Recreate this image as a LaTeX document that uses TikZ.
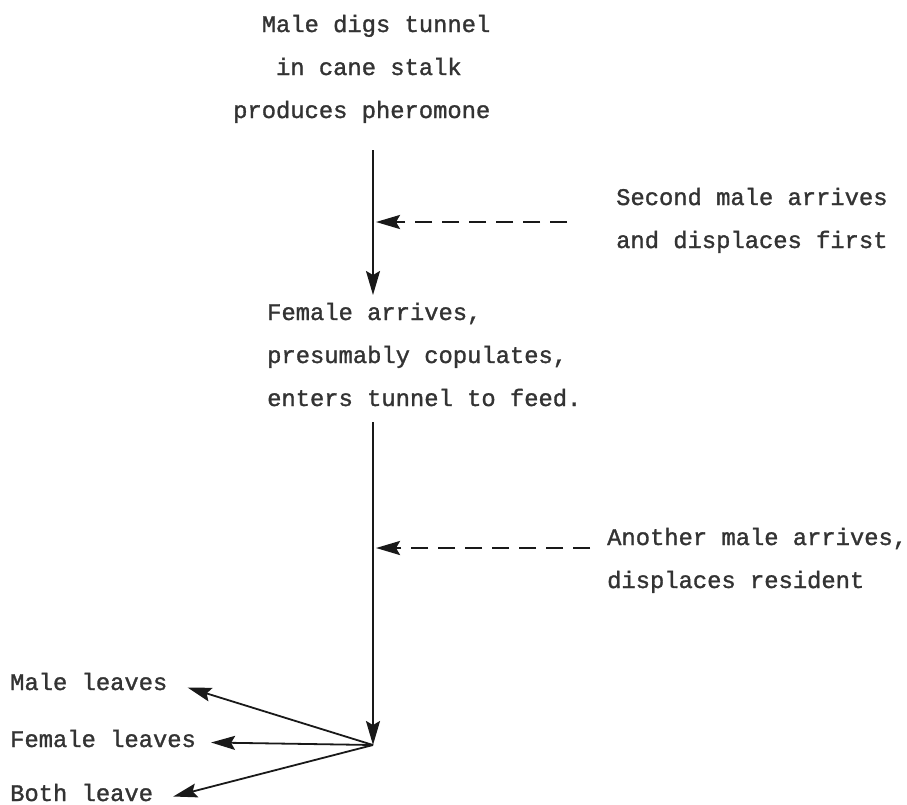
\documentclass[tikz,border=0pt]{standalone}
\usepackage{fontspec}
\setmonofont[FakeBold=1.3]{Liberation Mono}
\usetikzlibrary{arrows.meta}

\begin{document}
\begin{tikzpicture}[x=1pt,y=-1pt,
  txt/.style={font=\ttfamily\fontsize{23.8}{43}\selectfont, text=black!80, inner sep=0pt, align=left, anchor=base west},
  flow/.style={line width=1.8pt, black!90, -{Stealth[length=24pt,width=14pt,inset=4pt]}},
  intrude/.style={flow, line width=2.6pt, dash pattern=on 17pt off 10pt}]

  % page frame
  \useasboundingbox (0,0) rectangle (907,804);

  % --- stages (anchored at the last baseline) ---
  \node[txt] (dig) at (233,118) {\hphantom{xx}Male digs tunnel\\\hphantom{xxx}in cane stalk\\produces pheromone};
  \node[txt] (female) at (267,406) {Female arrives,\\presumably copulates,\\enters tunnel to feed.};

  % --- intruding males ---
  \node[txt] (second) at (616,248) {Second male arrives\\and displaces first};
  \node[txt] (another) at (607,588) {Another male arrives,\\displaces resident};

  % --- outcomes ---
  \node[txt] (mleave) at (10,690) {Male leaves};
  \node[txt] (fleave) at (10,747) {Female leaves};
  \node[txt] (bleave) at (10,801) {Both leave};

  % connector ends
  \coordinate (top1) at (373,150);
  \coordinate (bot1) at (373,295);
  \coordinate (top2) at (373,422);
  \coordinate (fork) at (373,745);
  \coordinate (d1) at (567,222);
  \coordinate (d2) at (590,548);

  % main line
  \draw[flow] (top1) -- (bot1);
  \draw[flow] (top2) -- (fork);

  % dashed arrivals
  \draw[intrude] (d1) -- ([xshift=3pt]d1 -| top1);
  \draw[intrude] (d2) -- ([xshift=3pt]d2 -| top2);

  % fan out
  \draw[flow] (fork) -- ([xshift=20pt,yshift=-6pt]mleave.east);
  \draw[flow] (fork) -- ([xshift=15pt,yshift=-4pt]fleave.east);
  \draw[flow] (fork) -- ([xshift=20pt,yshift=-4pt]bleave.east);

\end{tikzpicture}
\end{document}
